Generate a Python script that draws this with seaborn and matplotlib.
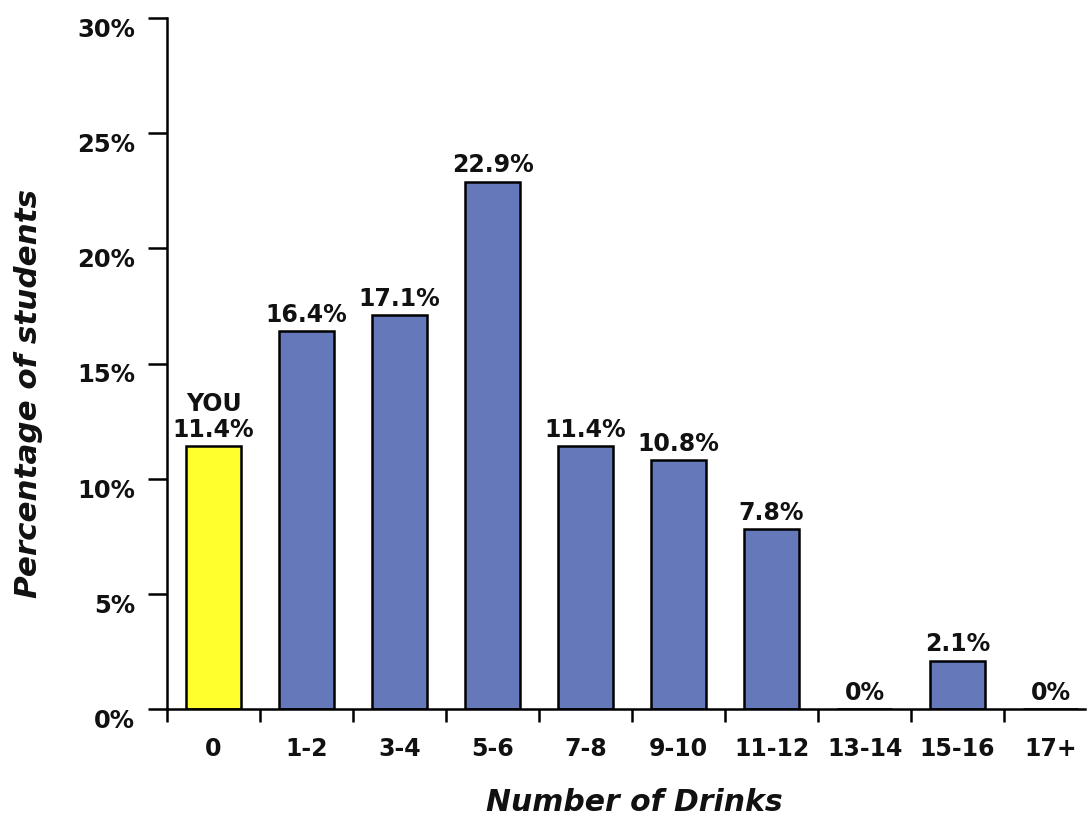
import matplotlib
matplotlib.use("Agg")
import matplotlib.pyplot as plt
import seaborn as sns
import numpy as np
from matplotlib.ticker import FixedLocator

categories = ["0", "1-2", "3-4", "5-6", "7-8", "9-10", "11-12", "13-14", "15-16", "17+"]
values = [11.4, 16.4, 17.1, 22.9, 11.4, 10.8, 7.8, 0.0, 2.1, 0.0]
bar_labels = ["YOU\n11.4%", "16.4%", "17.1%", "22.9%", "11.4%", "10.8%", "7.8%", "0%", "2.1%", "0%"]
bar_colors = ["#FFFF2E"] + ["#6579BA"] * 9
y_ticks = [0, 5, 10, 15, 20, 25, 30]
y_tick_labels = ["0%", "5%", "10%", "15%", "20%", "25%", "30%"]

sns.set_theme(style="white")
plt.rcParams["font.family"] = ["DejaVu Sans"]

fig = plt.figure(figsize=(10.88, 8.23), dpi=100)
ax = fig.add_axes([167 / 1088, 1 - 709 / 823, (1085 - 167) / 1088, (709 - 18) / 823])

sns.barplot(x=categories, y=values, hue=categories, palette=bar_colors, legend=False,
            width=0.6, edgecolor="black", linewidth=1.8, saturation=1, ax=ax)

for cont, lab in zip(ax.containers, bar_labels):
    ax.bar_label(cont, labels=[lab], padding=3, fontsize=17, fontweight="bold",
                 color="#111111", linespacing=1.1)

ax.set_xlim(-0.5, 9.37)
ax.set_ylim(0, 30)
ax.set_yticks(y_ticks)
ax.set_yticklabels(y_tick_labels)

for side in ["top", "right"]:
    ax.spines[side].set_visible(False)
for side in ["left", "bottom"]:
    ax.spines[side].set_linewidth(1.8)
    ax.spines[side].set_color("black")

ax.tick_params(axis="y", which="major", left=True, direction="out", length=14, width=1.8,
               color="black", pad=9, labelsize=17.5)
ax.tick_params(axis="x", which="major", length=0, pad=20, labelsize=17)
ax.xaxis.set_minor_locator(FixedLocator(np.arange(-0.5, 9.0, 1.0)))
ax.tick_params(axis="x", which="minor", direction="out", length=9, width=1.8,
               color="black", bottom=True)

for lab in ax.get_yticklabels():
    lab.set_fontweight("bold")
    lab.set_color("#111111")
    lab.set_verticalalignment("top")
for lab in ax.get_xticklabels():
    lab.set_fontweight("bold")
    lab.set_color("#111111")

ax.set_xlabel("Number of Drinks", fontsize=21.5, fontweight="bold", style="italic",
              family=["DejaVu Sans"], color="#111111")
ax.set_ylabel("Percentage of students", fontsize=22.3, fontweight="bold", style="italic",
              family=["DejaVu Sans"], color="#111111")
ax.xaxis.set_label_coords((634 - 167) / 918, -(788 - 709) / 691)
ax.yaxis.set_label_coords((43 - 167) / 918, (709 - 393) / 691)

ax.grid(False)
fig.savefig("out.png", dpi=100, facecolor="white")
